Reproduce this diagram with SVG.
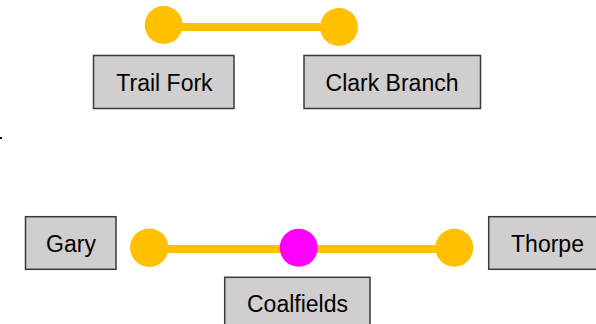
<svg xmlns="http://www.w3.org/2000/svg" width="596" height="324" viewBox="0 0 596 324">
<style>
.box{fill:#D0CECE;stroke:#3a3a3a;stroke-width:1.5}
.lbl{font-family:"Liberation Sans",Arial,sans-serif;font-size:23px;fill:#000;text-anchor:middle}
.edge{stroke:#FFC000;stroke-width:8;fill:none}
.stop{fill:#FFC000}
.hub{fill:#FF00FF}
</style>
<g id="connectors">
<line class="edge" x1="164" y1="27" x2="339" y2="27"/>
<line class="edge" x1="149" y1="249" x2="299" y2="249"/>
<line class="edge" x1="299" y1="249" x2="454" y2="249"/>
</g>
<g id="stop-trail-fork"><circle class="stop" cx="163.7" cy="25" r="19"/></g>
<g id="stop-clark-branch"><circle class="stop" cx="339" cy="27" r="19"/></g>
<g id="stop-gary"><circle class="stop" cx="149.3" cy="247.7" r="19.2"/></g>
<g id="stop-coalfields"><circle class="hub" cx="298.7" cy="247.7" r="19"/></g>
<g id="stop-thorpe"><circle class="stop" cx="454.3" cy="247.7" r="19"/></g>
<g id="label-trail-fork"><rect class="box" x="93.5" y="55.5" width="140.5" height="53"/><text class="lbl" x="164.5" y="90.5">Trail Fork</text></g>
<g id="label-clark-branch"><rect class="box" x="304" y="55.5" width="176.5" height="53"/><text class="lbl" x="392" y="90.5">Clark Branch</text></g>
<g id="label-gary"><rect class="box" x="25.5" y="216.7" width="90.5" height="52.6"/><text class="lbl" x="71" y="251.5">Gary</text></g>
<g id="label-thorpe"><rect class="box" x="488.7" y="216.7" width="118" height="52.6"/><text class="lbl" x="547.5" y="251.5">Thorpe</text></g>
<g id="label-coalfields"><rect class="box" x="224.7" y="277.3" width="145.3" height="53"/><text class="lbl" x="297.5" y="312">Coalfields</text></g>
<rect x="0" y="137" width="2" height="2" fill="#000"/>
</svg>
